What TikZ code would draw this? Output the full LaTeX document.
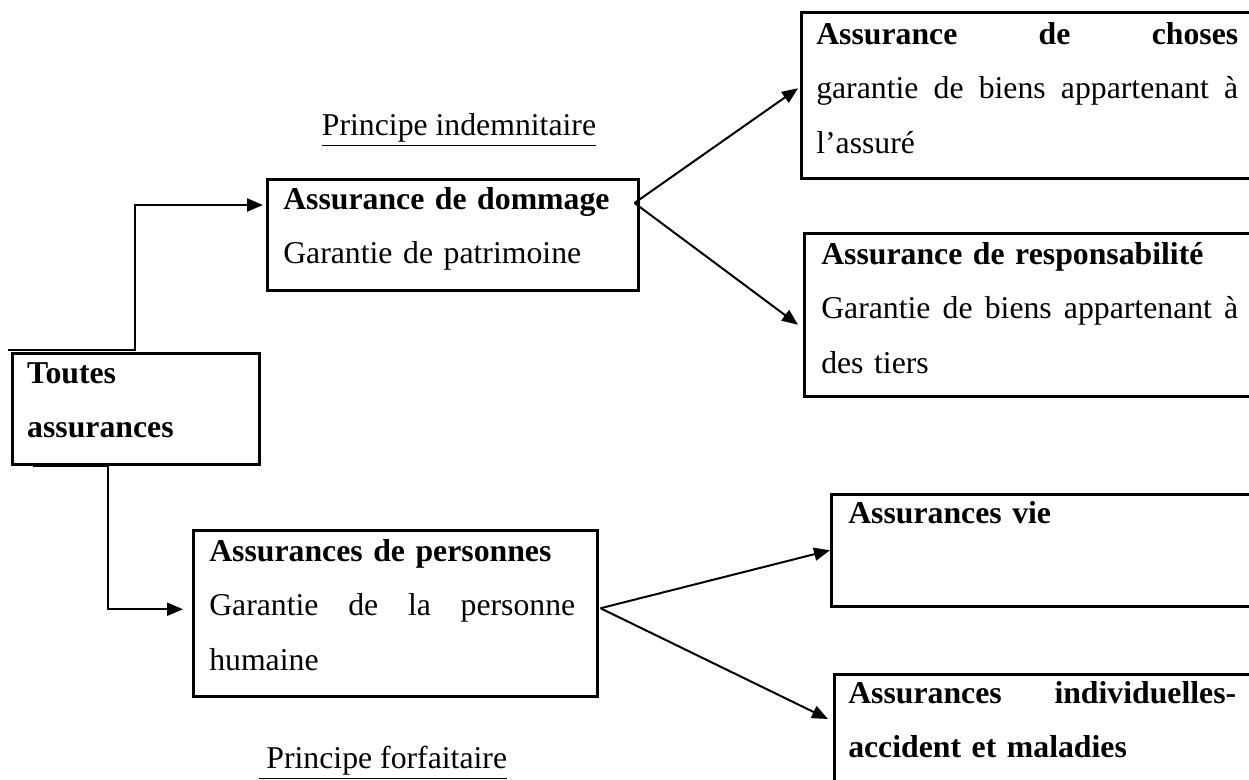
\documentclass[tikz,border=0pt]{standalone}
\usepackage{fontspec}
\setmainfont{Liberation Serif}
\usetikzlibrary{arrows.meta, calc}
\newcommand{\jl}[2]{\makebox[#1][s]{\spaceskip=.25em plus 1fil\relax #2}}
\tikzset{
  box/.style={rectangle, draw=black, line width=1pt, anchor=north west,
    inner xsep=6.4pt, inner ysep=0pt, align=left,
    font=\fontsize{12.7pt}{21.8pt}\selectfont},
  arrow/.style={-{Triangle[length=6.4pt, width=5.2pt]}, line width=0.8pt},
  principe/.style={anchor=base, inner sep=0pt,
    font=\fontsize{12.7pt}{21.8pt}\selectfont},
}

\begin{document}
\begin{tikzpicture}[x=0.4pt, y=-0.4pt]
  \clip (0,0) rectangle (1249,780);
  \node[box, inner xsep=6pt, text width=86.8pt, text height=12pt, text depth=32.4pt] (toutes) at (11,352)
    {\textbf{Toutes}\\\textbf{assurances}};
  \node[box, text width=135.6pt, text height=12pt, text depth=32.4pt] (dommage) at (266,178)
    {\textbf{Assurance de dommage}\\Garantie de patrimoine};
  \node[box, text width=148.8pt, text height=12.4pt, text depth=54pt] (personnes) at (192,529)
    {\textbf{Assurances de personnes}\\\jl{146.4pt}{Garantie de la personne}\\humaine};
  \node[box, inner xsep=6pt, text width=200pt, text height=12.8pt, text depth=53.6pt] (choses) at (800,11)
    {\jl{168.8pt}{\textbf{Assurance de choses}}\\\jl{168.8pt}{garantie de biens appartenant à}\\l'assuré};
  \node[box, inner xsep=6.8pt, text width=200pt, text height=12.4pt, text depth=52.8pt] (resp) at (803,232)
    {\textbf{Assurance de responsabilité}\\\jl{166.8pt}{Garantie de biens appartenant à}\\des tiers};
  \node[box, inner xsep=6.8pt, text width=200pt, text height=11.6pt, text depth=33.2pt] (vie) at (830,493)
    {\textbf{Assurances vie}};
  \node[box, inner xsep=5.6pt, text width=200pt, text height=11.6pt, text depth=60pt] (indiv) at (833,673)
    {\jl{155.2pt}{\textbf{Assurances individuelles-}}\\\textbf{accident et maladies}};

  \node[principe] (indem) at (459,135) {\underline{Principe indemnitaire}};
  \node[principe, anchor=base west] (forfait) at (258,768) {\underline{\ Principe forfaitaire}};

  \coordinate (t1) at ($(toutes.north west)+(-3,-2)$);
  \coordinate (b1) at ($(toutes.south west)+(22,0)$);
  \coordinate (domin) at ($(dommage.north west)+(-3,27)$);
  \coordinate (domout) at ($(dommage.north east)+(-5,25)$);
  \coordinate (chosesin) at ($(choses.west)+(-2,-7)$);
  \coordinate (respin) at ($(resp.west)+(-5,10)$);
  \coordinate (persin) at ($(personnes.west)+(-9,-4)$);
  \coordinate (persout) at ($(personnes.east)+(2,-5)$);
  \coordinate (indivin) at ($(indiv.north west)+(-5,46)$);

  \draw[arrow] (t1) -- ++(127,0) |- (domin);
  \draw[arrow] (b1) -- ++(75,0) |- (persin);
  \draw[arrow] (domout) -- (chosesin);
  \draw[arrow] (domout) -- (respin);
  \draw[arrow] (persout) -- (vie.west);
  \draw[arrow] (persout) -- (indivin);
\end{tikzpicture}
\end{document}
